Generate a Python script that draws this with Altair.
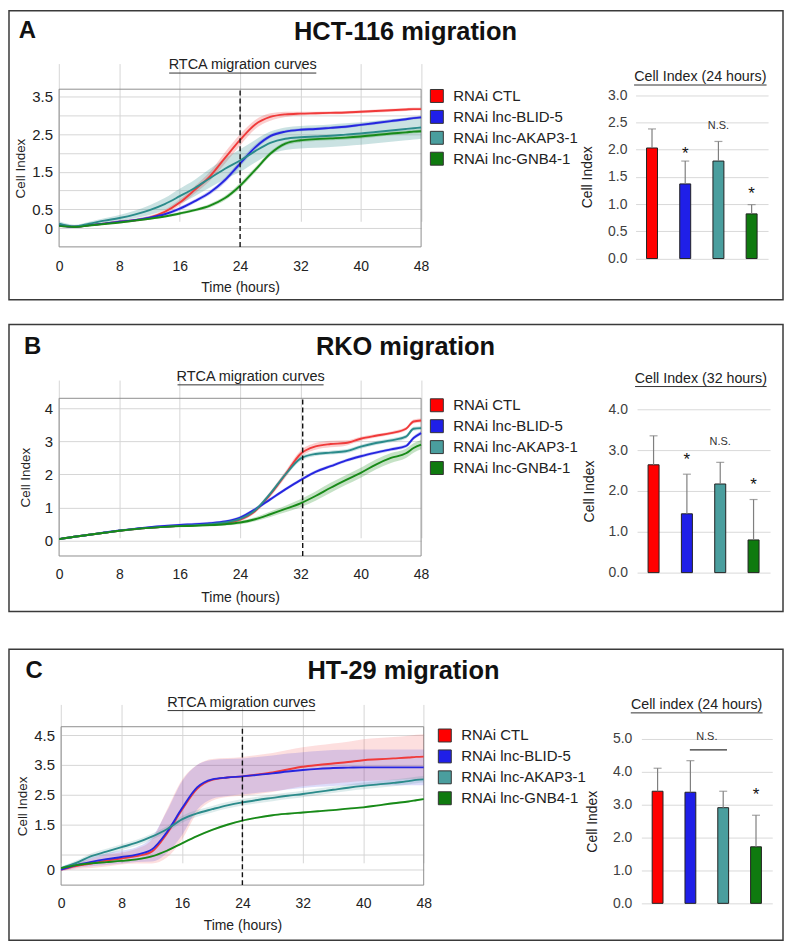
import altair as alt
import pandas as pd

FONT = "Liberation Sans"

SERIES = ["RNAi CTL", "RNAi lnc-BLID-5", "RNAi lnc-AKAP3-1", "RNAi lnc-GNB4-1"]
BAR_COLORS = ["#ff0000", "#1f1fe8", "#4a9e9e", "#0f7a0f"]
LINE_COLORS = ["#f03a3a", "#2626e0", "#2b8b8b", "#188a18"]

TIME_DOMAIN = [0, 48]
TIME_TICKS = [0, 8, 16, 24, 32, 40, 48]
HOURS = [0, 2, 4, 6, 8, 10, 12, 14, 16, 18, 20, 22, 24, 26, 28, 30, 32, 34, 36, 38, 40, 42, 44, 46, 47, 48]

# ---------------- Panel A: HCT-116 ----------------
A_CTL = [0.08, 0.04, 0.08, 0.12, 0.17, 0.21, 0.28, 0.43, 0.68, 1.02, 1.38, 1.87, 2.35, 2.76, 2.96, 3.03, 3.05, 3.06, 3.07, 3.08, 3.10, 3.12, 3.14, 3.16, 3.17, 3.17]
A_CTL_SD = [0.05, 0.03, 0.03, 0.03, 0.04, 0.04, 0.05, 0.06, 0.08, 0.10, 0.12, 0.15, 0.15, 0.12, 0.10, 0.07, 0.05, 0.04, 0.04, 0.04, 0.04, 0.04, 0.04, 0.04, 0.04, 0.04]
A_BLID = [0.08, 0.03, 0.08, 0.12, 0.17, 0.21, 0.28, 0.37, 0.52, 0.72, 0.95, 1.28, 1.72, 2.15, 2.45, 2.57, 2.62, 2.64, 2.67, 2.70, 2.75, 2.80, 2.85, 2.90, 2.93, 2.95]
A_BLID_SD = [0.04, 0.03, 0.03, 0.03, 0.03, 0.03, 0.04, 0.04, 0.05, 0.05, 0.06, 0.07, 0.08, 0.07, 0.05, 0.04, 0.04, 0.04, 0.04, 0.04, 0.04, 0.04, 0.04, 0.04, 0.04, 0.04]
A_AKAP = [0.12, 0.05, 0.12, 0.20, 0.27, 0.36, 0.48, 0.64, 0.85, 1.07, 1.33, 1.58, 1.80, 2.05, 2.27, 2.38, 2.42, 2.44, 2.46, 2.49, 2.52, 2.56, 2.60, 2.64, 2.66, 2.68]
A_AKAP_SD = [0.06, 0.04, 0.05, 0.06, 0.08, 0.10, 0.13, 0.16, 0.20, 0.22, 0.25, 0.28, 0.30, 0.30, 0.30, 0.30, 0.30, 0.30, 0.30, 0.30, 0.30, 0.30, 0.30, 0.30, 0.30, 0.30]
A_GNB4 = [0.06, 0.03, 0.07, 0.11, 0.15, 0.20, 0.25, 0.31, 0.39, 0.48, 0.60, 0.80, 1.13, 1.55, 1.98, 2.25, 2.34, 2.37, 2.39, 2.41, 2.44, 2.48, 2.52, 2.55, 2.57, 2.58]
A_GNB4_SD = [0.03, 0.02, 0.02, 0.02, 0.03, 0.03, 0.03, 0.03, 0.04, 0.04, 0.05, 0.06, 0.07, 0.07, 0.06, 0.05, 0.05, 0.05, 0.05, 0.05, 0.05, 0.05, 0.05, 0.05, 0.05, 0.05]
A_BAR = [2.03, 1.37, 1.79, 0.82]
A_BAR_SD = [0.35, 0.42, 0.36, 0.17]
A_SIG = ["", "*", "N.S.", "*"]
A_SIG_Y = [0, 2.0, 2.44, 1.26]

# ---------------- Panel B: RKO ----------------
B_CTL = [0.05, 0.12, 0.18, 0.24, 0.30, 0.35, 0.39, 0.42, 0.45, 0.47, 0.50, 0.54, 0.64, 0.90, 1.40, 2.00, 2.62, 2.85, 2.92, 2.95, 3.08, 3.17, 3.25, 3.38, 3.60, 3.63]
B_CTL_SD = [0.03, 0.03, 0.03, 0.03, 0.03, 0.03, 0.03, 0.03, 0.03, 0.03, 0.04, 0.04, 0.05, 0.06, 0.08, 0.10, 0.10, 0.10, 0.10, 0.08, 0.06, 0.05, 0.05, 0.05, 0.06, 0.06]
B_BLID = [0.05, 0.12, 0.18, 0.25, 0.31, 0.36, 0.41, 0.45, 0.48, 0.50, 0.53, 0.58, 0.70, 0.95, 1.25, 1.55, 1.83, 2.08, 2.25, 2.42, 2.55, 2.66, 2.76, 2.86, 3.10, 3.25]
B_BLID_SD = [0.03, 0.03, 0.03, 0.03, 0.03, 0.03, 0.03, 0.03, 0.03, 0.04, 0.04, 0.04, 0.05, 0.05, 0.05, 0.05, 0.05, 0.05, 0.05, 0.05, 0.05, 0.05, 0.05, 0.05, 0.06, 0.06]
B_AKAP = [0.05, 0.12, 0.18, 0.24, 0.30, 0.35, 0.39, 0.42, 0.45, 0.47, 0.50, 0.55, 0.66, 0.92, 1.42, 2.00, 2.48, 2.62, 2.66, 2.70, 2.84, 2.95, 3.03, 3.14, 3.38, 3.40]
B_AKAP_SD = [0.03, 0.03, 0.03, 0.03, 0.03, 0.03, 0.03, 0.03, 0.03, 0.03, 0.04, 0.04, 0.05, 0.06, 0.07, 0.07, 0.07, 0.06, 0.06, 0.06, 0.06, 0.06, 0.06, 0.06, 0.06, 0.06]
B_GNB4 = [0.05, 0.12, 0.18, 0.24, 0.30, 0.35, 0.39, 0.42, 0.44, 0.45, 0.47, 0.50, 0.55, 0.65, 0.80, 0.96, 1.13, 1.35, 1.60, 1.83, 2.05, 2.30, 2.50, 2.64, 2.80, 2.90]
B_GNB4_SD = [0.03, 0.03, 0.03, 0.03, 0.03, 0.03, 0.03, 0.03, 0.03, 0.03, 0.04, 0.04, 0.05, 0.06, 0.08, 0.10, 0.12, 0.14, 0.15, 0.15, 0.15, 0.15, 0.15, 0.14, 0.14, 0.14]
B_BAR = [2.64, 1.44, 2.17, 0.80]
B_BAR_SD = [0.71, 0.97, 0.53, 0.99]
B_SIG = ["", "*", "N.S.", "*"]
B_SIG_Y = [0, 2.85, 3.21, 2.24]

# ---------------- Panel C: HT-29 ----------------
C_CTL = [0.00, 0.12, 0.20, 0.30, 0.37, 0.45, 0.60, 1.20, 2.00, 2.70, 3.00, 3.08, 3.12, 3.18, 3.25, 3.35, 3.44, 3.50, 3.55, 3.60, 3.66, 3.69, 3.72, 3.75, 3.77, 3.78]
C_CTL_SD = [0.05, 0.10, 0.15, 0.20, 0.20, 0.25, 0.40, 0.80, 1.00, 0.80, 0.70, 0.65, 0.65, 0.65, 0.65, 0.65, 0.65, 0.66, 0.67, 0.68, 0.70, 0.71, 0.72, 0.73, 0.74, 0.75]
C_BLID = [0.00, 0.15, 0.26, 0.35, 0.42, 0.50, 0.67, 1.25, 2.05, 2.75, 3.02, 3.08, 3.12, 3.17, 3.22, 3.28, 3.33, 3.37, 3.40, 3.41, 3.42, 3.42, 3.42, 3.42, 3.42, 3.42]
C_BLID_SD = [0.05, 0.10, 0.15, 0.20, 0.22, 0.25, 0.40, 0.70, 0.90, 0.75, 0.65, 0.62, 0.60, 0.60, 0.60, 0.60, 0.60, 0.60, 0.60, 0.60, 0.60, 0.60, 0.60, 0.60, 0.60, 0.60]
C_AKAP = [0.05, 0.22, 0.45, 0.60, 0.75, 0.90, 1.10, 1.35, 1.68, 1.88, 2.02, 2.15, 2.25, 2.33, 2.40, 2.47, 2.53, 2.60, 2.67, 2.74, 2.80, 2.85, 2.90, 2.96, 3.00, 3.02]
C_AKAP_SD = [0.05, 0.08, 0.10, 0.10, 0.10, 0.10, 0.10, 0.10, 0.11, 0.11, 0.11, 0.11, 0.11, 0.11, 0.11, 0.11, 0.11, 0.11, 0.11, 0.11, 0.11, 0.11, 0.11, 0.11, 0.11, 0.11]
C_GNB4 = [0.05, 0.15, 0.21, 0.25, 0.29, 0.34, 0.44, 0.63, 0.88, 1.12, 1.33, 1.50, 1.64, 1.74, 1.82, 1.87, 1.91, 1.95, 1.99, 2.04, 2.08, 2.15, 2.22, 2.28, 2.32, 2.36]
C_GNB4_SD = [0.03, 0.03, 0.03, 0.03, 0.03, 0.03, 0.03, 0.03, 0.03, 0.03, 0.03, 0.03, 0.03, 0.03, 0.03, 0.03, 0.03, 0.03, 0.03, 0.03, 0.03, 0.03, 0.03, 0.03, 0.03, 0.03]
C_BAR = [3.41, 3.38, 2.91, 1.72]
C_BAR_SD = [0.70, 0.96, 0.50, 0.96]
C_SIG = ["", "", "", "*"]
C_SIG_Y = [0, 0, 0, 3.41]
C_NS_PAIR = ["RNAi lnc-BLID-5", "RNAi lnc-AKAP3-1"]
C_NS_LINE_Y = 4.67
C_NS_TEXT_Y = 5.05

SUBTITLE = "RTCA  migration  curves"

PANELS = [
    dict(letter="A", title="HCT-116 migration", height=290,
         curves=[A_CTL, A_BLID, A_AKAP, A_GNB4], sds=[A_CTL_SD, A_BLID_SD, A_AKAP_SD, A_GNB4_SD],
         ydom=[-0.5, 3.7], ylabels=[0, 0.5, 1.5, 2.5, 3.5], ygrid=[0.5, 1, 1.5, 2, 2.5, 3, 3.5],
         marker=24, bars=A_BAR, bar_sd=A_BAR_SD, sig=A_SIG, sig_y=A_SIG_Y,
         bar_max=3.0, bar_ticks=[0, 0.5, 1, 1.5, 2, 2.5, 3], bar_title="Cell Index (24 hours)",
         ns=None, band_opacity=0.25,
         # layout (px inside the panel)
         line_x=[50.3, 413.7], line_y=[237, 78.7],
         sub_x=[160.3, 308], sub_uy=62,
         x_lab_pad=13, x_title_pad=7, y_title_pad=4,
         bar_x=[629, 762], bar_y=[248.7, 84.7], bt_x=[627, 760], bt_uy=74,
         bar_lab_pad=8.7, bar_ytitle_pad=13.5,
         legend_xy=[422, 78], letter_xy=[18.5, 20.3], title_xy=[398, 21]),
    dict(letter="B", title="RKO migration", height=288,
         curves=[B_CTL, B_BLID, B_AKAP, B_GNB4], sds=[B_CTL_SD, B_BLID_SD, B_AKAP_SD, B_GNB4_SD],
         ydom=[-0.46, 4.3], ylabels=[0, 1, 2, 3, 4], ygrid=[0, 0.5, 1, 1.5, 2, 2.5, 3, 3.5, 4],
         marker=32.3, bars=B_BAR, bar_sd=B_BAR_SD, sig=B_SIG, sig_y=B_SIG_Y,
         bar_max=4.0, bar_ticks=[0, 0.5, 1, 1.5, 2, 2.5, 3, 3.5, 4], bar_title="Cell Index (32 hours)",
         ns=None, band_opacity=0.25,
         line_x=[50.3, 413.7], line_y=[232.3, 74],
         sub_x=[168.7, 315.3], sub_uy=60,
         x_lab_pad=11.4, x_title_pad=9.3, y_title_pad=11.7,
         bar_x=[630.5, 764], bar_y=[249, 85], bt_x=[628, 760], bt_uy=61.7,
         bar_lab_pad=9.7, bar_ytitle_pad=11.8,
         legend_xy=[422, 73.5], letter_xy=[23.7, 22.8], title_xy=[398, 22.8]),
    dict(letter="C", title="HT-29 migration", height=292,
         curves=[C_CTL, C_BLID, C_AKAP, C_GNB4], sds=[C_CTL_SD, C_BLID_SD, C_AKAP_SD, C_GNB4_SD],
         ydom=[-0.52, 4.78], ylabels=[0, 1.5, 2.5, 3.5, 4.5], ygrid=[0.5, 1.5, 2.5, 3.5, 4.5],
         marker=24, bars=C_BAR, bar_sd=C_BAR_SD, sig=C_SIG, sig_y=C_SIG_Y,
         bar_max=5.0, bar_ticks=[0, 1, 2, 3, 4, 5], bar_title="Cell index (24 hours)",
         ns=(C_NS_PAIR, C_NS_LINE_Y, C_NS_TEXT_Y), band_opacity=0.16,
         line_x=[52.3, 416.3], line_y=[236.7, 77.7],
         sub_x=[158.7, 307], sub_uy=61,
         x_lab_pad=11.4, x_title_pad=8.6, y_title_pad=4,
         bar_x=[634.8, 766.2], bar_y=[255, 90], bt_x=[623.7, 756], bt_uy=63.3,
         bar_lab_pad=9.5, bar_ytitle_pad=13.5,
         legend_xy=[430, 79], letter_xy=[25.3, 21.7], title_xy=[396, 21.7]),
]

PANEL_W = 777
GRID = "#d6d6d6"
TXT = "#222222"


def heading(text, x_range, uy, size):
    """Underlined heading: the axis title is the text, the axis domain line is the underline."""
    df = pd.DataFrame({"u": [0.0, 1.0]})
    return alt.Chart(df).mark_point(opacity=0).encode(
        x=alt.X("u:Q", scale=alt.Scale(domain=[0, 1], range=x_range, nice=False, zero=False),
                axis=alt.Axis(orient="top", offset=-uy, title=text, labels=False, ticks=False,
                              grid=False, domain=True, domainColor="#333333", domainWidth=1,
                              titlePadding=1, titleFontSize=size, titleFontWeight="normal",
                              titleFont=FONT, titleColor=TXT)),
        y=alt.Y("u:Q", scale=alt.Scale(domain=[0, 1], range=[uy, uy - 1], nice=False, zero=False),
                axis=None),
    )


def build_panel(p):
    H = p["height"]
    rows = []
    for name, vals, sds in zip(SERIES, p["curves"], p["sds"]):
        for h, v, s in zip(HOURS, vals, sds):
            rows.append({"hour": h, "series": name, "value": v, "sd": s})
    line_df = pd.DataFrame(rows)

    ymin, ymax = p["ydom"]
    xs = alt.Scale(domain=TIME_DOMAIN, range=p["line_x"], nice=False, zero=False)
    ys = alt.Scale(domain=p["ydom"], range=p["line_y"], nice=False, zero=False)
    lcol = alt.Scale(domain=SERIES, range=LINE_COLORS)

    yvals = sorted(set(p["ygrid"]) | set(p["ylabels"]))
    lab_expr = "indexof([%s], datum.value) >= 0 ? datum.label : ''" % ",".join(str(v) for v in p["ylabels"])

    x_axis = alt.Axis(orient="bottom", offset=p["line_y"][0] - H, values=TIME_TICKS,
                      title="Time (hours)", grid=True, gridColor=GRID, domain=False, ticks=False,
                      labelPadding=p["x_lab_pad"], titlePadding=p["x_title_pad"], labelFlush=False,
                      labelFontSize=14, titleFontSize=14, titleFontWeight="normal",
                      labelColor=TXT, titleColor=TXT, labelFont=FONT, titleFont=FONT)
    y_axis = alt.Axis(orient="left", offset=-p["line_x"][0], values=yvals, labelExpr=lab_expr,
                      format="~g", title="Cell Index", grid=True, gridColor=GRID, domain=False,
                      ticks=False, labelPadding=6.6, titlePadding=p["y_title_pad"],
                      labelFontSize=15, titleFontSize=13.5, titleFontWeight="normal",
                      labelColor=TXT, titleColor=TXT, labelFont=FONT, titleFont=FONT,
                      labelOverlap=False)

    frame_df = pd.DataFrame({"h0": [TIME_DOMAIN[0]], "h1": [TIME_DOMAIN[1]], "v0": [ymin], "v1": [ymax]})
    frame = alt.Chart(frame_df).mark_rect(fillOpacity=0, stroke="#8f8f8f", strokeWidth=1).encode(
        x=alt.X("h0:Q", scale=xs, axis=x_axis),
        x2="h1:Q",
        y=alt.Y("v0:Q", scale=ys, axis=y_axis),
        y2="v1:Q",
    )

    base = alt.Chart(line_df)
    band = base.transform_calculate(
        lo="datum.value - datum.sd", hi="datum.value + datum.sd"
    ).mark_area(opacity=p["band_opacity"], interpolate="monotone").encode(
        x=alt.X("hour:Q", scale=xs),
        y=alt.Y("lo:Q", scale=ys),
        y2="hi:Q",
        color=alt.Color("series:N", scale=lcol, legend=None),
    )
    lines = base.mark_line(strokeWidth=1.9, interpolate="monotone").encode(
        x=alt.X("hour:Q", scale=xs),
        y=alt.Y("value:Q", scale=ys),
        color=alt.Color("series:N", scale=lcol, legend=None),
    )
    rule_df = pd.DataFrame({"hour": [p["marker"]], "lo": [ymin], "hi": [ymax]})
    rule = alt.Chart(rule_df).mark_rule(strokeDash=[5, 3], color="#111111", strokeWidth=1.4).encode(
        x=alt.X("hour:Q", scale=xs), y=alt.Y("lo:Q", scale=ys), y2="hi:Q")

    line_layer = alt.layer(frame, band, lines, rule)

    # ---- bar chart ----
    bar_df = pd.DataFrame({"series": SERIES, "mean": p["bars"], "sd": p["bar_sd"],
                           "sig": p["sig"], "sig_y": p["sig_y"]})
    bxs = alt.Scale(domain=SERIES, range=p["bar_x"], paddingInner=0.67, paddingOuter=0.33)
    bys = alt.Scale(domain=[0, p["bar_max"]], range=p["bar_y"], nice=False)
    bcol = alt.Scale(domain=SERIES, range=BAR_COLORS)

    by_axis = alt.Axis(orient="left", offset=-p["bar_x"][0], values=p["bar_ticks"], format=".1f",
                       title="Cell Index", grid=True, gridColor="#d9d9d9", domain=False, ticks=False,
                       labelPadding=p["bar_lab_pad"], titlePadding=p["bar_ytitle_pad"],
                       labelFontSize=14, titleFontSize=14, titleFontWeight="normal",
                       labelColor="#404040", titleColor=TXT, labelFont=FONT, titleFont=FONT)

    bars = alt.Chart(bar_df).mark_bar(stroke="#222222", strokeWidth=1).encode(
        x=alt.X("series:N", scale=bxs, axis=None, sort=SERIES),
        y=alt.Y("mean:Q", scale=bys, axis=by_axis),
        color=alt.Color("series:N", scale=bcol, sort=SERIES, legend=alt.Legend(
            orient="none", legendX=p["legend_xy"][0], legendY=p["legend_xy"][1], title=None,
            symbolType="square", symbolSize=169, symbolStrokeColor="#333333", symbolStrokeWidth=1,
            labelFontSize=15, labelFont=FONT, labelColor=TXT, labelOffset=9, rowPadding=4,
            padding=0, labelLimit=300)),
    )
    whisk = alt.Chart(bar_df).transform_calculate(top="datum.mean + datum.sd").mark_rule(
        color="#7f7f7f", strokeWidth=1.2).encode(
        x=alt.X("series:N", scale=bxs, sort=SERIES), y=alt.Y("mean:Q", scale=bys), y2="top:Q")
    cap = alt.Chart(bar_df).transform_calculate(top="datum.mean + datum.sd").mark_tick(
        color="#7f7f7f", thickness=1.2, size=8).encode(
        x=alt.X("series:N", scale=bxs, sort=SERIES), y=alt.Y("top:Q", scale=bys))

    star = alt.Chart(bar_df).transform_filter("datum.sig == '*'").mark_text(
        fontSize=17, font=FONT, color="#111111", baseline="middle", dy=4).encode(
        x=alt.X("series:N", scale=bxs, sort=SERIES), y=alt.Y("sig_y:Q", scale=bys), text="sig:N")
    ns = alt.Chart(bar_df).transform_filter("datum.sig == 'N.S.'").mark_text(
        fontSize=11, font=FONT, color="#333333", baseline="middle").encode(
        x=alt.X("series:N", scale=bxs, sort=SERIES), y=alt.Y("sig_y:Q", scale=bys), text="sig:N")
    bar_parts = [bars, whisk, cap, star, ns]

    if p["ns"] is not None:
        pair, ly, ty = p["ns"]
        step = (p["bar_x"][1] - p["bar_x"][0]) / (len(SERIES) - 0.67 + 2 * 0.33)
        br_df = pd.DataFrame({"a": [pair[0]], "b": [pair[1]], "y": [ly], "ty": [ty], "label": ["N.S."]})
        bracket = alt.Chart(br_df).mark_rule(color="#333333", strokeWidth=1.2).encode(
            x=alt.X("a:N", scale=bxs, sort=SERIES, bandPosition=0.45),
            x2=alt.X2("b:N", bandPosition=0.85),
            y=alt.Y("y:Q", scale=bys))
        br_text = alt.Chart(br_df).mark_text(fontSize=11, font=FONT, color="#333333",
                                             baseline="middle", dx=step / 2).encode(
            x=alt.X("a:N", scale=bxs, sort=SERIES, bandPosition=0.5),
            y=alt.Y("ty:Q", scale=bys), text="label:N")
        bar_parts += [bracket, br_text]

    bar_layer = alt.layer(*bar_parts)

    sub_head = heading(SUBTITLE, p["sub_x"], p["sub_uy"], 14.5)
    bar_head = heading(p["bar_title"], p["bt_x"], p["bt_uy"], 14.3)

    meta = pd.DataFrame({"letter": [p["letter"]], "title": [p["title"]]})
    letter = alt.Chart(meta).mark_text(fontSize=24, fontWeight="bold", font=FONT, color="#111111",
                                       baseline="middle", align="center").encode(
        x=alt.value(p["letter_xy"][0]), y=alt.value(p["letter_xy"][1]), text="letter:N")
    title = alt.Chart(meta).mark_text(fontSize=25.5, fontWeight="bold", font=FONT, color="#111111",
                                      baseline="middle", align="center").encode(
        x=alt.value(p["title_xy"][0]), y=alt.value(p["title_xy"][1]), text="title:N")

    return alt.layer(line_layer, bar_layer, sub_head, bar_head, letter, title).resolve_scale(
        x="independent", y="independent", color="independent"
    ).properties(width=PANEL_W, height=H)


pa, pb, pc = [build_panel(p) for p in PANELS]

chart = alt.vconcat(
    alt.vconcat(pa, pb, spacing=23),
    pc,
    spacing=36,
).properties(
    padding=0, background="white"
).configure_view(
    stroke="#3a3a3a", strokeWidth=1.5
)

chart.save("out.html", embed_options={"renderer": "svg", "actions": False})
